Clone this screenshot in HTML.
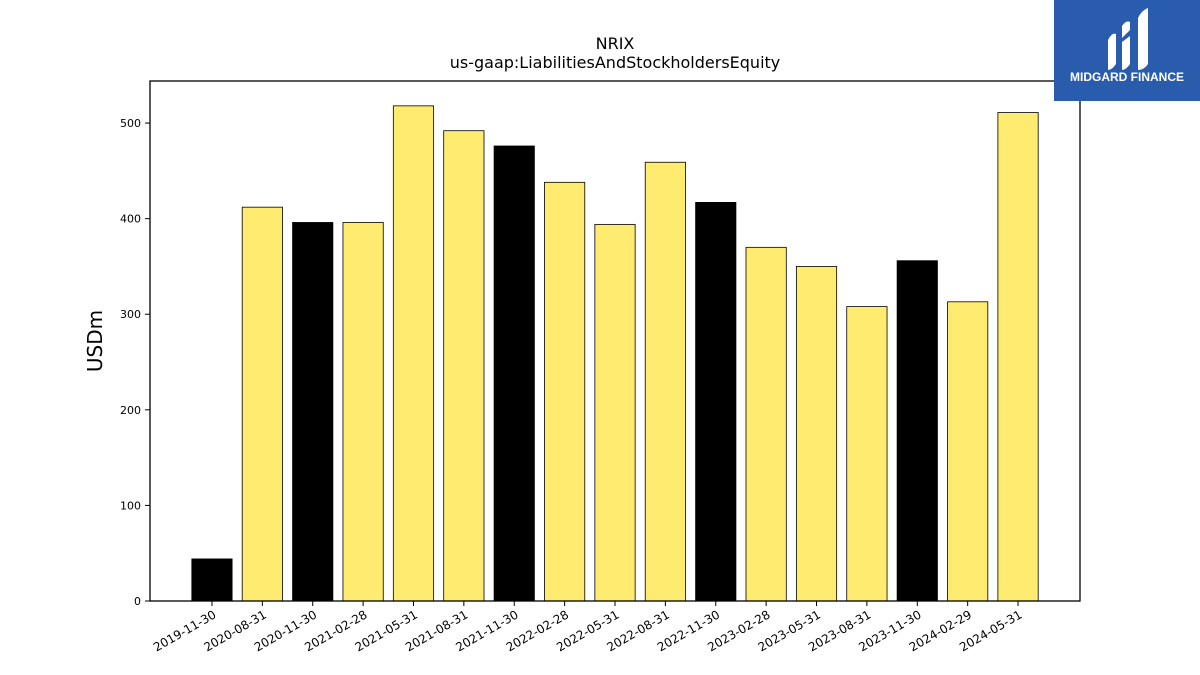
<!DOCTYPE html>
<html><head><meta charset="utf-8"><style>
html,body{margin:0;padding:0;background:#fff;width:1200px;height:675px;overflow:hidden;font-family:"Liberation Sans","DejaVu Sans",sans-serif}
</style></head><body>
<svg id="chart" width="1200" height="675" xmlns="http://www.w3.org/2000/svg" font-family="DejaVu Sans, Liberation Sans, sans-serif">
<text x="615" y="49" text-anchor="middle" font-size="16">NRIX</text>
<text x="615" y="68" text-anchor="middle" font-size="16">us-gaap:LiabilitiesAndStockholdersEquity</text>
<text transform="translate(102,341) rotate(-90)" text-anchor="middle" font-size="20">USDm</text>
<g id="bars"></g>
<g id="xticks"></g>
<g id="yticks"></g>
<rect x="150" y="81" width="930" height="520" fill="none" stroke="#000" stroke-width="1.3"/>
<g>
<rect x="1054" y="0" width="146" height="101" fill="#2a5cad"/>
<path d="M1108 40 q4-8 8-6 v30 q-4 6-8 6z M1122 26 q4-6 8-4 v8 l-8 8z M1122 42 l8-6 v28 q-4 6-8 6z M1138 18 q4-8 10-10 v56 q-4 6-10 6z" fill="#fff"/>
<text x="1127" y="81" text-anchor="middle" font-size="12" font-weight="bold" fill="#fff" font-family="Liberation Sans, sans-serif">MIDGARD FINANCE</text>
</g>
</svg>
<script>
const categories=["2019-11-30","2020-08-31","2020-11-30","2021-02-28","2021-05-31","2021-08-31","2021-11-30","2022-02-28","2022-05-31","2022-08-31","2022-11-30","2023-02-28","2023-05-31","2023-08-31","2023-11-30","2024-02-29","2024-05-31"];
const values=[44,412,396,396,518,492,476,438,394,459,417,370,350,308,356,313,511];
const yTicks=[0,100,200,300,400,500];
const NS="http://www.w3.org/2000/svg";
const L=150,R=1080,T=81,B=601;
const xMin=-1.23,xMax=categories.length-1+1.23;
const yMax=544;
const x=i=>L+(i-xMin)/(xMax-xMin)*(R-L);
const y=v=>B-v/yMax*(B-T);
const bw=(R-L)/(xMax-xMin)*0.8;
const bars=document.getElementById('bars'),xt=document.getElementById('xticks'),yt=document.getElementById('yticks');
categories.forEach((c,i)=>{
  const r=document.createElementNS(NS,'rect');
  
  
  r.setAttribute('x',x(i)-bw/2);r.setAttribute('width',bw);
  r.setAttribute('y',y(values[i]));r.setAttribute('height',B-y(values[i]));
  r.setAttribute('fill',c.endsWith('11-30')?'#000':'#ffeb70');
  r.setAttribute('stroke','#000');r.setAttribute('stroke-width','0.8');
  bars.appendChild(r);
  const tk=document.createElementNS(NS,'line');
  
  
  tk.setAttribute('x1',x(i));tk.setAttribute('x2',x(i));tk.setAttribute('y1',B);tk.setAttribute('y2',B+5);tk.setAttribute('stroke','#000');
  xt.appendChild(tk);
  const t=document.createElementNS(NS,'text');
  
  
  t.setAttribute('font-size','12');t.setAttribute('text-anchor','end');
  t.setAttribute('transform',`translate(${x(i)+5},${B+16}) rotate(-30)`);
  t.textContent=c;xt.appendChild(t);
});
yTicks.forEach(v=>{
  const tk=document.createElementNS(NS,'line');
  
  
  tk.setAttribute('x1',L-5);tk.setAttribute('x2',L);tk.setAttribute('y1',y(v));tk.setAttribute('y2',y(v));tk.setAttribute('stroke','#000');
  yt.appendChild(tk);
  const t=document.createElementNS(NS,'text');
  
  
  t.setAttribute('font-size','11');t.setAttribute('text-anchor','end');
  t.setAttribute('x',L-9);t.setAttribute('y',y(v)+4);
  t.textContent=v;yt.appendChild(t);
});
</script>
</body></html>
